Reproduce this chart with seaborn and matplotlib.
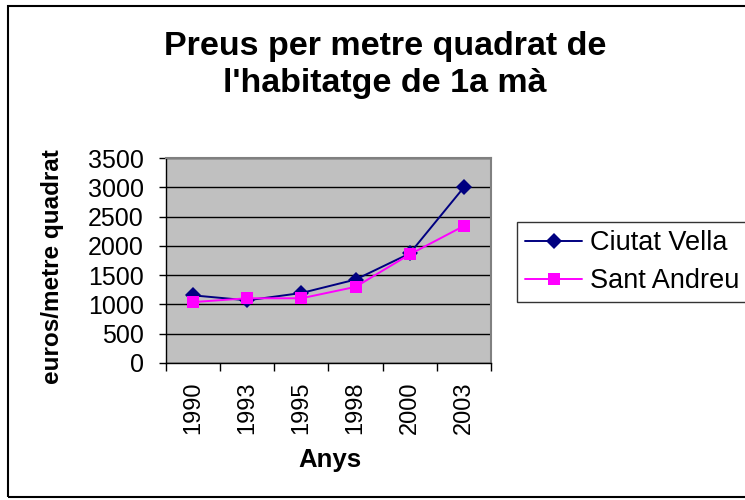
import pandas as pd
import numpy as np
import matplotlib.pyplot as plt
import matplotlib.patches as mpatches
from matplotlib.lines import Line2D
import seaborn as sns

# ── Data ──────────────────────────────────────────────────────
anys = ['1990', '1993', '1995', '1998', '2000', '2003']
ciutat_vella = [1155, 1070, 1195, 1425, 1870, 3000]
sant_andreu = [1040, 1105, 1105, 1300, 1855, 2340]
series_names = ['Ciutat Vella', 'Sant Andreu']
colors = ['#000080', '#FF00FF']
markers = ['D', 's']
y_ticks = [0, 500, 1000, 1500, 2000, 2500, 3000, 3500]

df = pd.DataFrame({
    'Anys': anys * 2,
    'valor': ciutat_vella + sant_andreu,
    'zona': [series_names[0]] * len(anys) + [series_names[1]] * len(anys),
})

# ── Style ─────────────────────────────────────────────────────
sns.set_style('white')
plt.rcParams['font.family'] = ['Liberation Sans', 'DejaVu Sans']
plt.rcParams.update({'text.color': 'black',
                     'xtick.color': 'black',
                     'ytick.color': 'black',
                     'axes.labelcolor': 'black'})

fig = plt.figure(figsize=(7.45, 5.0), dpi=100)
fig.patch.set_facecolor('white')
ax = fig.add_axes([166 / 745, 137 / 500, 325 / 745, 205 / 500])
ax.set_facecolor('#C0C0C0')

sns.lineplot(data=df, x='Anys', y='valor', hue='zona', style='zona',
             palette=dict(zip(series_names, colors)),
             markers=dict(zip(series_names, markers)),
             dashes=False, sort=False, ax=ax, linewidth=1.4,
             markersize=8.5, markeredgewidth=0, legend=False, zorder=3)

ax.set_xlim(-0.5, len(anys) - 0.5)
ax.set_ylim(0, 3500)
ax.set_yticks(y_ticks)
ax.set_yticklabels([str(v) for v in y_ticks], fontsize=18)
ax.yaxis.grid(True, color='black', linewidth=1)
ax.set_axisbelow(True)

ax.set_xticks(range(len(anys)))
ax.set_xticklabels(anys, rotation=90, fontsize=17)
ax.set_xticks(np.arange(-0.5, len(anys)), minor=True)
ax.tick_params(axis='x', which='major', length=0, pad=13)
ax.tick_params(axis='x', which='minor', length=6, width=1, color='black',
               direction='out', bottom=True)
ax.tick_params(axis='y', length=5, width=1, color='black',
               direction='out', left=True, pad=11)
ax.set_xlabel('')
ax.set_ylabel('')

for side in ['top', 'right']:
    ax.spines[side].set_color('#808080')
    ax.spines[side].set_linewidth(1.5)
for side in ['left', 'bottom']:
    ax.spines[side].set_color('black')
    ax.spines[side].set_linewidth(1)

# ── Text ──────────────────────────────────────────────────────
fig.text(0.517, 0.870, "Preus per metre quadrat de\nl'habitatge de 1a mà",
         ha='center', va='center', fontsize=24.5, fontweight='bold',
         linespacing=1.25)
fig.text(0.071, 0.466, 'euros/metre quadrat', rotation=90,
         ha='center', va='center', fontsize=17.5, fontweight='bold')
fig.text(0.443, 0.08, 'Anys', ha='center', va='center',
         fontsize=18.5, fontweight='bold')

# ── Legend ────────────────────────────────────────────────────
handles = [Line2D([0], [0], color=c, marker=m, markersize=8.5,
                  markeredgewidth=0, linewidth=1.4)
           for c, m in zip(colors, markers)]
leg = fig.legend(handles, series_names, loc='upper left',
                 bbox_to_anchor=(517 / 745, 1 - 222 / 500),
                 fontsize=19.5, frameon=True, fancybox=False,
                 handlelength=2.1, handletextpad=0.3, labelspacing=0.45,
                 borderpad=0.3, borderaxespad=0)
leg.get_frame().set_edgecolor('black')
leg.get_frame().set_linewidth(1)

# ── Outer border ──────────────────────────────────────────────
fig.patches.append(mpatches.Rectangle((8 / 745, 3 / 500), 1.0, 1 - 9 / 500,
                                      transform=fig.transFigure,
                                      fill=False, edgecolor='black',
                                      linewidth=1.5))

fig.savefig('out.png', dpi=100, facecolor='white')
